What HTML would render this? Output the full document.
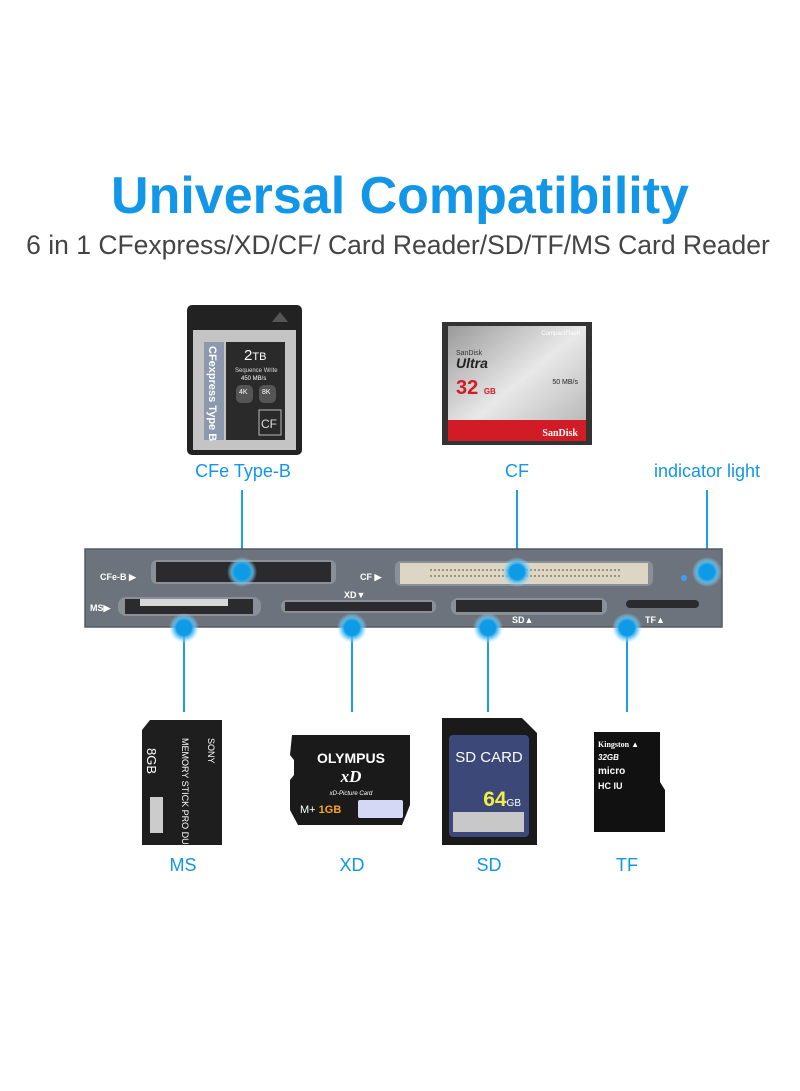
<!DOCTYPE html>
<html><head><meta charset="utf-8"><style>
body{margin:0;width:800px;height:1091px;background:#fff;overflow:hidden;font-family:"Liberation Sans",sans-serif}
svg{position:absolute;left:0;top:0}
</style></head><body>
<svg width="800" height="1091" viewBox="0 0 800 1091" font-family="Liberation Sans, sans-serif">
<defs>
<radialGradient id="g"><stop offset="0.5" stop-color="#0d9be8"/><stop offset="0.7" stop-color="#5ec3f5" stop-opacity="0.8"/><stop offset="1" stop-color="#9fdcfb" stop-opacity="0"/></radialGradient>
<linearGradient id="cfg" x1="0" y1="0" x2="1" y2="1"><stop offset="0" stop-color="#9a9a9a"/><stop offset="0.5" stop-color="#e8e8e8"/><stop offset="1" stop-color="#b0b0b0"/></linearGradient>
</defs>
<text x="400" y="213" text-anchor="middle" font-size="52" font-weight="bold" fill="#1196e8">Universal Compatibility</text>
<text x="398" y="254" text-anchor="middle" font-size="26.5" fill="#444">6 in 1 CFexpress/XD/CF/ Card Reader/SD/TF/MS Card Reader</text>

<!-- CFe card -->
<rect x="187" y="305" width="115" height="150" rx="5" fill="#222"/>
<rect x="193" y="330" width="103" height="120" fill="#c4c4c4"/>
<polygon points="272,322 280,312 288,322" fill="#555"/>
<rect x="204" y="342" width="20" height="98" fill="#8c98ad"/>
<text transform="translate(209,346) rotate(90)" font-size="11" font-weight="bold" fill="#fff">CFexpress Type B</text>
<rect x="226" y="342" width="59" height="98" fill="#2a2a2a"/>
<text x="244" y="360" font-size="15" fill="#fff">2<tspan font-size="11">TB</tspan></text>
<text x="235" y="372" font-size="6" fill="#ddd">Sequence Write</text>
<text x="241" y="380" font-size="6" fill="#fff">450 MB/s</text>
<rect x="236" y="385" width="17" height="18" rx="5" fill="#555"/>
<rect x="259" y="385" width="17" height="18" rx="5" fill="#555"/>
<text x="239" y="394" font-size="7" fill="#fff">4K</text><text x="262" y="394" font-size="7" fill="#fff">8K</text>
<rect x="259" y="410" width="22" height="25" fill="none" stroke="#bbb"/>
<text x="261" y="428" font-size="12" fill="#ddd">CF</text>

<!-- CF card -->
<rect x="442" y="322" width="150" height="123" fill="#333"/>
<rect x="448" y="326" width="138" height="115" fill="url(#cfg)"/>
<rect x="448" y="420" width="138" height="21" fill="#d11b25"/>
<text x="580" y="335" text-anchor="end" font-size="6" fill="#fff">CompactFlash</text>
<text x="456" y="355" font-size="7" fill="#333">SanDisk</text>
<text x="456" y="368" font-size="14" font-weight="bold" font-style="italic" fill="#222">Ultra</text>
<text x="456" y="394" font-size="20" font-weight="bold" fill="#d11b25">32 <tspan font-size="8">GB</tspan></text>
<text x="578" y="384" text-anchor="end" font-size="7" fill="#222">50 MB/s</text>
<text x="578" y="436" text-anchor="end" font-size="10" font-weight="bold" font-family="Liberation Serif, serif" fill="#fff">SanDisk</text>

<g font-size="18" fill="#1196e8" text-anchor="middle">
<text x="243" y="477">CFe Type-B</text><text x="517" y="477">CF</text><text x="707" y="477">indicator light</text>
<text x="183" y="871">MS</text><text x="352" y="871">XD</text><text x="489" y="871">SD</text><text x="627" y="871">TF</text>
</g>

<g stroke="#1ea0e6" stroke-width="2">
<line x1="242" y1="490" x2="242" y2="572"/><line x1="517" y1="490" x2="517" y2="572"/><line x1="707" y1="490" x2="707" y2="572"/>
<line x1="184" y1="628" x2="184" y2="712"/><line x1="352" y1="628" x2="352" y2="712"/><line x1="488" y1="628" x2="488" y2="712"/><line x1="627" y1="628" x2="627" y2="712"/>
</g>

<!-- reader bar -->
<rect x="85" y="549" width="637" height="78" fill="#6d737c" stroke="#555b63" stroke-width="1.5"/>
<rect x="151" y="560" width="185" height="24" rx="6" fill="#8a9098"/>
<rect x="156" y="562" width="175" height="20" fill="#2b2b2d"/>
<rect x="395" y="561" width="258" height="25" rx="6" fill="#8a9098"/>
<rect x="400" y="563" width="248" height="21" fill="#ddd6c4"/>
<line x1="430" y1="570" x2="620" y2="570" stroke="#8a7a5a" stroke-width="1.5" stroke-dasharray="2 2"/>
<line x1="430" y1="576" x2="620" y2="576" stroke="#8a7a5a" stroke-width="1.5" stroke-dasharray="2 2"/>
<rect x="118" y="597" width="143" height="19" rx="8" fill="#8a9098"/>
<rect x="125" y="599" width="128" height="15" fill="#2b2b2d"/>
<rect x="140" y="599" width="88" height="7" fill="#d8d8d8"/>
<rect x="281" y="600" width="155" height="13" rx="6" fill="#8a9098"/>
<rect x="285" y="602" width="147" height="9" fill="#2b2b2d"/>
<rect x="451" y="598" width="156" height="17" rx="7" fill="#8a9098"/>
<rect x="456" y="600" width="146" height="12" fill="#2b2b2d"/>
<rect x="626" y="600" width="73" height="8" rx="4" fill="#2b2b2d"/>
<circle cx="684" cy="578" r="3" fill="#3aa0ff"/>
<g font-size="9" font-weight="bold" fill="#fff">
<text x="100" y="580">CFe-B ▶</text><text x="360" y="580">CF ▶</text><text x="90" y="611">MS▶</text>
<text x="344" y="598">XD▼</text><text x="512" y="623">SD▲</text><text x="645" y="623">TF▲</text>
</g>
<g fill="url(#g)">
<circle cx="242" cy="572" r="15"/><circle cx="517" cy="572" r="15"/><circle cx="707" cy="572" r="15"/>
<circle cx="184" cy="628" r="15"/><circle cx="352" cy="628" r="15"/><circle cx="488" cy="628" r="15"/><circle cx="627" cy="628" r="15"/>
</g>

<!-- MS -->
<polygon points="150,720 222,720 222,845 142,845 142,730" fill="#1e1e1e"/>
<text transform="translate(147,748) rotate(90)" font-size="13" fill="#fff">8GB</text>
<text transform="translate(182,738) rotate(90)" font-size="9" fill="#fff">MEMORY STICK PRO DUO</text>
<text transform="translate(208,738) rotate(90)" font-size="9" fill="#fff">SONY</text>
<rect x="150" y="797" width="13" height="36" fill="#ccc"/>

<!-- XD -->
<path d="M292,735 H410 V805 L402,825 H298 L290,810 V780 L294,775 V760 L290,755 Z" fill="#1a1a1a"/>
<text x="351" y="763" text-anchor="middle" font-size="14" font-weight="bold" fill="#fff">OLYMPUS</text>
<text x="351" y="782" text-anchor="middle" font-size="17" font-weight="bold" font-style="italic" fill="#fff" font-family="Liberation Serif, serif">xD</text>
<text x="351" y="795" text-anchor="middle" font-size="6" font-style="italic" fill="#fff">xD-Picture Card</text>
<text x="300" y="813" font-size="11" fill="#fff">M+ <tspan fill="#f5a623" font-weight="bold">1GB</tspan></text>
<rect x="358" y="800" width="45" height="18" rx="2" fill="#d4d8f5"/>

<!-- SD -->
<path d="M442,718 H522 L537,733 V845 H442 Z" fill="#1a1a1a"/>
<rect x="449" y="735" width="80" height="102" rx="4" fill="#3b4878"/>
<text x="489" y="762" text-anchor="middle" font-size="15" fill="#fff">SD CARD</text>
<text x="521" y="806" text-anchor="end" font-size="21" font-weight="bold" fill="#f2ec4a">64<tspan font-size="10" fill="#fff" font-weight="normal">GB</tspan></text>
<rect x="453" y="812" width="71" height="20" fill="#c8c8c8"/>

<!-- TF -->
<path d="M594,732 H660 V782 L665,790 V832 H594 Z" fill="#111"/>
<text x="598" y="747" font-size="8" font-weight="bold" fill="#fff" font-family="Liberation Serif, serif">Kingston ▲</text>
<text x="598" y="760" font-size="8" font-weight="bold" font-style="italic" fill="#fff">32GB</text>
<text x="598" y="774" font-size="10" font-weight="bold" fill="#fff">micro</text>
<text x="598" y="789" font-size="9" font-weight="bold" fill="#fff">HC  IU</text>
</svg>
</body></html>
